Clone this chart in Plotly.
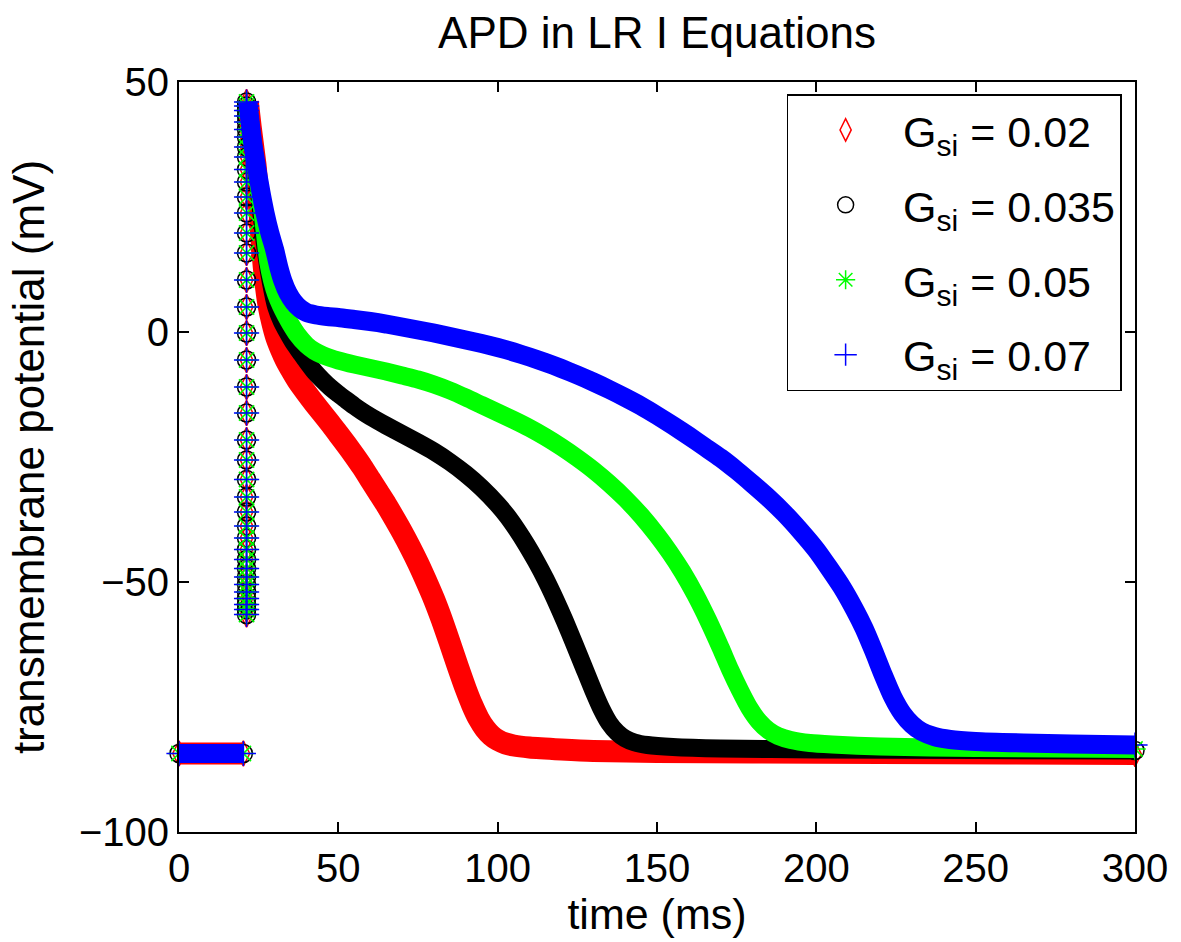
import plotly.graph_objects as go

# ---------------- data ----------------
series_names = ["G<sub>si</sub> = 0.02", "G<sub>si</sub> = 0.035",
                "G<sub>si</sub> = 0.05", "G<sub>si</sub> = 0.07"]

# resting phase before the stimulus (shared by all runs)
rest_t = [0.0, 5.0, 10.0, 15.0, 20.2]
rest_v = [-84.3, -84.3, -84.3, -84.3, -84.3]

# upstroke (sampled points, all at the same time instant)
upstroke_t = 21.2
upstroke_v = [-56.5, -55.5, -54.5, -53.3, -52.0, -50.5, -49.0, -47.3, -45.5,
              -43.5, -41.2, -38.8, -36.0, -33.0, -29.5, -25.6, -21.6, -16.2,
              -11.0, -5.6, -0.2, 5.0, 10.4, 15.8, 19.8, 23.8, 27.0, 30.0,
              32.5, 35.0, 37.0, 39.0, 40.5, 42.0, 43.2, 44.3, 45.2, 46.0]

# repolarisation, Gsi = 0.02
t_red = [21.6, 22.5, 23.3, 24.0, 24.5, 25.0, 25.5, 26.0, 26.6, 27.3, 28.2,
         29.3, 30.5, 32.0, 33.5, 35.5, 37.5, 40.0, 42.5, 45.0, 47.5, 50.0,
         52.5, 55.0, 57.5, 60.0, 62.5, 65.0, 67.5, 70.0, 72.5, 75.0, 77.5,
         80.0, 82.5, 85.0, 87.5, 90.0, 92.0, 94.0, 96.0, 98.0, 100.0, 102.5,
         105.0, 110.0, 120.0, 130.0, 150.0, 180.0, 220.0, 260.0, 300.0]
v_red = [46.0, 41.0, 37.0, 33.5, 30.0, 26.0, 22.0, 17.5, 13.0, 9.0, 5.0,
         1.8, -1.0, -3.5, -5.6, -7.9, -10.0, -12.2, -14.3, -16.3, -18.3,
         -20.4, -22.5, -24.7, -27.0, -29.5, -32.0, -34.5, -37.2, -40.0,
         -43.0, -46.2, -49.7, -53.4, -57.6, -62.2, -66.9, -71.4, -74.6,
         -77.3, -79.3, -80.7, -81.6, -82.3, -82.7, -83.1, -83.5, -83.8,
         -84.0, -84.1, -84.2, -84.3, -84.4]

# repolarisation, Gsi = 0.035
t_blk = [21.6, 22.5, 23.3, 24.0, 24.5, 25.2, 25.8, 26.6, 27.5, 28.8, 30.5,
         32.2, 34.0, 36.0, 38.0, 40.0, 42.5, 45.0, 47.5, 50.0, 52.5, 55.0,
         57.5, 60.0, 65.0, 70.0, 75.0, 80.0, 85.0, 90.0, 95.0, 100.0, 103.0,
         106.0, 109.0, 112.0, 115.0, 118.0, 121.0, 124.0, 127.0, 130.0,
         132.5, 135.0, 137.5, 140.0, 143.0, 147.0, 155.0, 170.0, 200.0,
         250.0, 300.0]
v_blk = [46.0, 41.0, 37.0, 34.0, 31.5, 27.5, 24.0, 19.5, 15.0, 10.0, 5.0,
         2.2, 0.0, -2.2, -4.0, -5.8, -7.9, -9.6, -11.1, -12.4, -13.6, -14.8,
         -15.9, -16.9, -18.7, -20.4, -22.1, -23.9, -26.0, -28.4, -31.2,
         -34.5, -36.8, -39.5, -42.5, -45.8, -49.4, -53.4, -57.7, -62.3,
         -67.0, -71.7, -75.3, -78.2, -80.1, -81.3, -82.1, -82.6, -83.0,
         -83.3, -83.5, -83.6, -83.7]

# repolarisation, Gsi = 0.05
t_grn = [21.6, 22.5, 23.3, 24.5, 25.2, 26.0, 27.0, 28.0, 29.2, 30.5, 32.0,
         33.5, 35.0, 37.0, 40.0, 42.5, 45.0, 47.5, 50.0, 55.0, 60.0, 65.0,
         70.0, 75.0, 80.0, 85.0, 90.0, 95.0, 100.0, 105.0, 110.0, 115.0,
         120.0, 125.0, 130.0, 135.0, 140.0, 145.0, 150.0, 154.0, 158.0,
         162.0, 166.0, 170.0, 173.0, 176.0, 179.0, 182.0, 185.0, 188.0,
         192.0, 198.0, 205.0, 220.0, 250.0, 300.0]
v_grn = [46.0, 41.0, 37.0, 32.0, 28.5, 25.0, 19.5, 14.0, 10.3, 7.5, 5.2,
         3.3, 1.6, -0.4, -2.6, -3.8, -4.6, -5.2, -5.7, -6.5, -7.2, -7.9,
         -8.7, -9.5, -10.5, -11.7, -13.1, -14.6, -16.1, -17.6, -19.2, -21.0,
         -23.0, -25.2, -27.6, -30.3, -33.3, -36.7, -40.6, -44.1, -48.0,
         -52.5, -57.6, -63.2, -67.6, -71.6, -75.2, -77.9, -79.7, -80.8,
         -81.6, -82.2, -82.5, -82.9, -83.2, -83.4]

# repolarisation, Gsi = 0.07
t_blu = [21.6, 22.5, 23.3, 24.5, 25.7, 27.0, 28.5, 30.0, 31.3, 32.6, 34.2,
         36.0, 38.0, 40.0, 43.0, 46.5, 50.0, 55.0, 60.0, 65.0, 70.0, 75.0,
         80.0, 85.0, 90.0, 95.0, 100.0, 105.0, 110.0, 115.0, 120.0, 125.0,
         130.0, 135.0, 140.0, 145.0, 150.0, 155.0, 160.0, 165.0, 170.0,
         175.0, 180.0, 185.0, 190.0, 195.0, 200.0, 204.0, 208.0, 212.0,
         215.0, 218.0, 221.0, 224.0, 227.0, 230.0, 233.0, 237.0, 242.0,
         250.0, 265.0, 280.0, 300.0]
v_blu = [46.0, 41.0, 37.0, 32.4, 28.0, 23.8, 19.8, 16.5, 13.0, 10.2, 7.8,
         6.0, 4.7, 3.9, 3.4, 3.1, 2.9, 2.5, 2.1, 1.6, 1.0, 0.4, -0.2, -0.9,
         -1.6, -2.3, -3.1, -4.0, -5.0, -6.1, -7.3, -8.6, -10.0, -11.5,
         -13.1, -14.8, -16.7, -18.7, -20.8, -23.0, -25.2, -27.7, -30.4,
         -33.2, -36.3, -39.8, -43.6, -47.2, -51.0, -55.5, -59.3, -63.8,
         -68.6, -73.0, -76.3, -78.5, -79.9, -80.9, -81.5, -81.9, -82.2,
         -82.4, -82.6]

x_ticks = [0, 50, 100, 150, 200, 250, 300]
y_ticks = [-100, -50, 0, 50]

# ---------------- styling ----------------
colors = ["#ff0000", "#000000", "#00ff00", "#0000ff"]
symbols = ["diamond-tall-open", "circle-open", "asterisk-open", "cross-thin-open"]
band_widths = [22, 18, 18, 19]
FONT = "Liberation Sans, Arial, Helvetica, sans-serif"

repol = [(t_red, v_red), (t_blk, v_blk), (t_grn, v_grn), (t_blu, v_blu)]

fig = go.Figure()
for i, (tt, vv) in enumerate(repol):
    # dense marker trail -> thick band
    xs = list(rest_t) + [None] + list(tt)
    ys = list(rest_v) + [None] + list(vv)
    fig.add_trace(go.Scatter(
        x=xs, y=ys, mode="lines",
        line=dict(color=colors[i], width=band_widths[i], shape="spline",
                  smoothing=0.6, simplify=False),
        connectgaps=False, showlegend=False, legendgroup=f"g{i}",
        hoverinfo="skip"))
    # individual markers on the upstroke and at the ends
    mx = [rest_t[0], rest_t[-1]] + [upstroke_t] * len(upstroke_v) + [tt[-1]]
    my = [rest_v[0], rest_v[-1]] + list(upstroke_v) + [vv[-1]]
    fig.add_trace(go.Scatter(
        x=mx, y=my, mode="markers", name=series_names[i],
        legendgroup=f"g{i}", cliponaxis=False,
        marker=dict(symbol=symbols[i], size=18, color=colors[i],
                    line=dict(color=colors[i], width=1.5))))

axis_common = dict(showline=True, linecolor="black", linewidth=2,
                   mirror="allticks", ticks="inside", ticklen=10,
                   tickwidth=1.5, tickcolor="black", showgrid=False,
                   zeroline=False, tickfont=dict(size=40, family=FONT,
                                                 color="black"))

fig.update_layout(
    width=1181, height=942,
    margin=dict(l=179, r=46, t=82, b=110),
    paper_bgcolor="white", plot_bgcolor="white",
    font=dict(family=FONT, size=40, color="black"),
    title=dict(text="APD in LR I Equations", x=0.5, xref="paper",
               y=1 - 33 / 942, yref="container", yanchor="middle",
               font=dict(size=44, family=FONT, color="black")),
    xaxis=dict(range=[0, 300], tickvals=x_ticks,
               title=dict(text="time (ms)", standoff=2,
                          font=dict(size=43, family=FONT)),
               **axis_common),
    yaxis=dict(range=[-100, 50], tickvals=y_ticks,
               title=dict(text="transmembrane potential (mV)", standoff=20,
                          font=dict(size=44, family=FONT)),
               **axis_common),
    legend=dict(x=0.986, y=0.984, xanchor="right", yanchor="top",
                bgcolor="white", bordercolor="black", borderwidth=1.5,
                font=dict(size=43, family=FONT, color="black"),
                tracegroupgap=16, itemwidth=105),
)

fig.write_html("out.html")
